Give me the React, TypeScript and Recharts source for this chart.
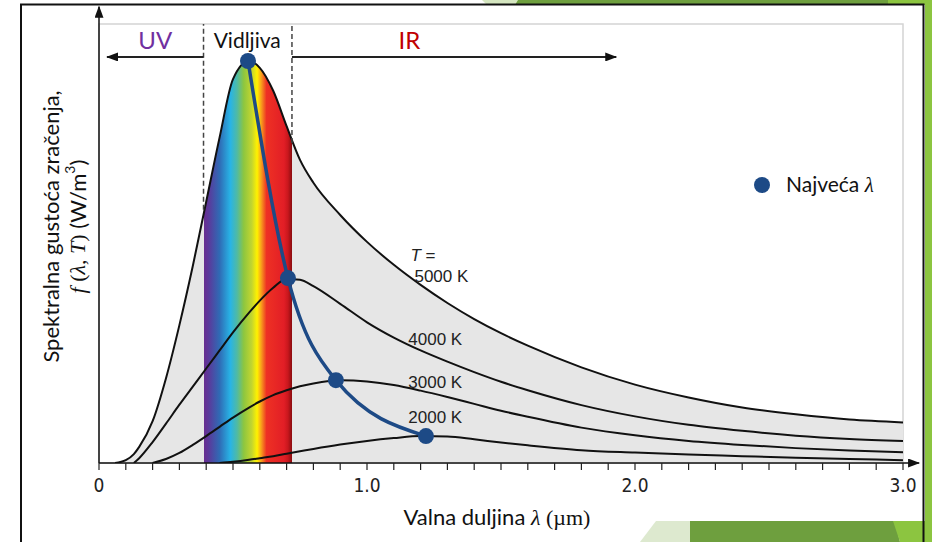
import {
  ComposedChart, Area, Line, XAxis, YAxis,
  ReferenceLine, ReferenceArea, ReferenceDot, Legend,
} from 'recharts';

// wavelength grid (µm) and spectral density per temperature (arbitrary units, 5000 K peak = 100)
const lambda = [0.06, 0.1, 0.13, 0.15, 0.2, 0.25, 0.3, 0.35, 0.4, 0.45, 0.5, 0.56, 0.6, 0.65, 0.7, 0.75, 0.8, 0.9, 1.0, 1.1, 1.2, 1.3, 1.4, 1.5, 1.6, 1.8, 2.0, 2.2, 2.4, 2.6, 2.8, 3.0];
const t5000 = [0, 0.7, 2.2, 4.0, 10.4, 21.1, 34.3, 49, 65, 81, 95.5, 100, 98.3, 92.6, 83.8, 75.4, 69.7, 61.7, 55.0, 49.3, 44.3, 39.8, 35.8, 32.3, 29.2, 23.8, 19.5, 16.3, 13.8, 12.1, 10.8, 10.1];
const t4000 = [null, null, 0, 1.2, 5.2, 9.8, 14.5, 19.0, 23.5, 28, 32.5, 37.4, 40.4, 43.6, 45.8, 45.6, 44.0, 39.6, 35.0, 31.2, 28.0, 25.2, 22.6, 20.2, 18.1, 14.4, 11.6, 9.5, 8.0, 6.8, 6.0, 5.5];
const t3000 = [null, null, null, null, 0, 1.0, 2.5, 4.5, 6.7, 9.0, 11.3, 13.8, 15.3, 16.9, 18.1, 19.1, 19.8, 20.6, 20.3, 19.4, 18.0, 16.4, 14.7, 13.0, 11.5, 8.8, 6.9, 5.5, 4.5, 3.7, 3.1, 2.7];
const t2000 = [null, null, null, null, null, null, null, null, null, 0, 0.3, 0.8, 1.2, 1.7, 2.3, 2.9, 3.5, 4.6, 5.5, 6.2, 6.7, 6.6, 5.9, 5.1, 4.4, 3.2, 2.6, 2.1, 1.7, 1.3, 1.0, 0.7];

// peak wavelength per curve (Wien)
const peakLambda = [0.556, 0.705, 0.884, 1.22];
const peakValue = [100, 46, 20.6, 6.7];

const xTicks = [0, 0.1, 0.2, 0.3, 0.4, 0.5, 0.6, 0.7, 0.8, 0.9, 1.0, 1.1, 1.2, 1.3, 1.4, 1.5, 1.6, 1.7, 1.8, 1.9, 2.0, 2.1, 2.2, 2.3, 2.4, 2.5, 2.6, 2.7, 2.8, 2.9, 3.0];
const xLabelTicks = [0, 1, 2, 3];

const VIS_FROM = 0.39;
const VIS_TO = 0.72;
const VIS_EDGE_VALUES = [63, 79.6];
const Y_MAX = 109.2;
const ARROW_ROW = 101;
const BAND_LABEL_ROW = 105.3;

const bandLabels = [
  { text: 'UV', x: 0.21, color: '#7030a0', size: 24 },
  { text: 'Vidljiva', x: 0.553, color: '#111', size: 21 },
  { text: 'IR', x: 1.158, color: '#c00000', size: 24 },
];
const tempLabels = [
  { text: '5000 K', x: 1.177, y: 46.3 },
  { text: '4000 K', x: 1.154, y: 30.6 },
  { text: '3000 K', x: 1.154, y: 19.9 },
  { text: '2000 K', x: 1.154, y: 11.2 },
];

const spectrum: [number, string][] = [
  [0.39, '#6a2c8f'], [0.41, '#5a3a9c'], [0.45, '#2f6bb5'], [0.49, '#28b4e6'],
  [0.515, '#4fbaa5'], [0.54, '#8dc63f'], [0.57, '#c3d52f'], [0.59, '#fff200'],
  [0.605, '#f8a11c'], [0.625, '#ee3124'], [0.69, '#e21e26'], [0.705, '#c9171d'], [0.72, '#8a0c10'],
];

const BLUE = '#1d4a86';
const GRAY = '#e6e6e6';
const SANS = "Lato, 'Open Sans', sans-serif";
const ARIAL = "'Liberation Sans', Arial, sans-serif";
const NARROW = "'Liberation Sans Narrow', 'DejaVu Sans Condensed', sans-serif";
const SERIF = "'Liberation Serif', 'DejaVu Serif', serif";

const rows = lambda.map((l, i) => ({
  lambda: l, t5000: t5000[i], t4000: t4000[i], t3000: t3000[i], t2000: t2000[i],
}));
const peakRows = peakLambda.map((l, i) => ({ lambda: l, peak: peakValue[i] }));

// gradient offsets are relative to the 5000 K area's bounding box
const FILL_START = lambda[0];
const FILL_END = lambda[lambda.length - 1];
const off = (l: number) => `${((l - FILL_START) / (FILL_END - FILL_START)) * 100}%`;

const fmtTick = (v: number) => {
  const hit = xLabelTicks.find((t) => Math.abs(t - v) < 1e-6);
  if (hit === undefined) return '';
  return hit === 0 ? '0' : hit.toFixed(1);
};

function YTitle(props: any) {
  const vb = props.viewBox;
  const left = vb.x + vb.width;
  const cy = vb.y + vb.height / 2 - 17;
  return (
    <g>
      <text transform={`translate(${left - 49}, ${cy}) rotate(-90)`} textAnchor="middle"
        dominantBaseline="central" fontFamily={SANS} fontSize={22} fill="#111">
        Spektralna gustoća zračenja,
      </text>
      <text transform={`translate(${left - 22}, ${cy}) rotate(-90)`} textAnchor="middle"
        dominantBaseline="central" fontSize={22} fill="#111">
        <tspan fontFamily={SERIF} fontStyle="italic">f</tspan>
        <tspan fontFamily={SERIF}> (</tspan>
        <tspan fontFamily={SERIF} fontStyle="italic">λ</tspan>
        <tspan fontFamily={SERIF}>, </tspan>
        <tspan fontFamily={SERIF} fontStyle="italic">T</tspan>
        <tspan fontFamily={SERIF}>)</tspan>
        <tspan fontFamily={SANS}> (W/m</tspan>
        <tspan fontFamily={SANS} fontSize={14} dy={-8}>3</tspan>
        <tspan fontFamily={SANS} dy={8}>)</tspan>
      </text>
    </g>
  );
}

function XTitle(props: any) {
  const vb = props.viewBox;
  return (
    <text x={vb.x + vb.width / 2 - 4} y={vb.y + 62} textAnchor="middle" fontSize={22} fill="#111">
      <tspan fontFamily={SANS}>Valna duljina </tspan>
      <tspan fontFamily={SERIF} fontStyle="italic">λ</tspan>
      <tspan fontFamily={SERIF}> (µm)</tspan>
    </text>
  );
}

function LegendBox() {
  return (
    <div style={{ display: 'flex', alignItems: 'center', whiteSpace: 'nowrap' }}>
      <svg width={18} height={18} style={{ marginRight: 15 }}>
        <circle cx={9} cy={9} r={8} fill={BLUE} />
      </svg>
      <span style={{ fontFamily: SANS, fontSize: 21, color: '#111' }}>
        Najveća <span style={{ fontFamily: SERIF, fontStyle: 'italic' }}>λ</span>
      </span>
    </div>
  );
}

export default function App() {
  return (
    <div style={{ position: 'absolute', left: 0, top: 0, width: 932, height: 542, background: '#fff', overflow: 'hidden' }}>
      <ComposedChart width={932} height={542} data={rows}
        margin={{ top: 24, right: 29, left: 69, bottom: 49 }}>
        <defs>
          <linearGradient id="fill5000" x1="0" y1="0" x2="1" y2="0">
            <stop offset="0%" stopColor={GRAY} />
            <stop offset={off(VIS_FROM)} stopColor={GRAY} />
            {spectrum.map(([l, c]) => <stop key={l} offset={off(l)} stopColor={c} />)}
            <stop offset={off(VIS_TO)} stopColor={GRAY} />
            <stop offset="100%" stopColor={GRAY} />
          </linearGradient>
          <marker id="arrowHead" viewBox="0 0 12 9" refX={11} refY={4.5} markerWidth={12} markerHeight={9}
            markerUnits="userSpaceOnUse" orient="auto">
            <path d="M0,0 L12,4.5 L0,9 z" fill="#111" />
          </marker>
        </defs>

        <XAxis dataKey="lambda" type="number" domain={[0, 3]} ticks={xTicks} interval={0}
          tickFormatter={fmtTick} axisLine={false} tickSize={7} tickMargin={9} height={30}
          tickLine={{ stroke: '#222', strokeWidth: 1.2 }} allowDataOverflow
          tick={{ fill: '#222', fontSize: 19, fontFamily: NARROW }}
          label={(p: any) => <XTitle {...p} />} />
        <YAxis type="number" domain={[0, Y_MAX]} width={30} axisLine={false} tickLine={false}
          tick={false} allowDataOverflow label={(p: any) => <YTitle {...p} />} />

        <ReferenceArea x1={0} x2={3} y1={0} y2={Y_MAX} fill="none" stroke="#d4d4d4" strokeWidth={1.5} />

        <Area dataKey="t5000" type="monotone" fill="url(#fill5000)" fillOpacity={1}
          stroke="#111" strokeWidth={2} isAnimationActive={false} />
        <Line dataKey="t4000" type="monotone" stroke="#111" strokeWidth={2} dot={false} isAnimationActive={false} />
        <Line dataKey="t3000" type="monotone" stroke="#111" strokeWidth={2} dot={false} isAnimationActive={false} />
        <Line dataKey="t2000" type="monotone" stroke="#111" strokeWidth={2} dot={false} isAnimationActive={false} />

        <Line data={peakRows} dataKey="peak" name="Najveća λ" type="monotone" stroke={BLUE} strokeWidth={3.5}
          dot={{ r: 8, fill: BLUE, stroke: BLUE, strokeWidth: 0 }} isAnimationActive={false} />

        <ReferenceLine segment={[{ x: VIS_FROM, y: VIS_EDGE_VALUES[0] }, { x: VIS_FROM, y: Y_MAX }]}
          stroke="#444" strokeWidth={1.5} strokeDasharray="5 3" ifOverflow="visible" />
        <ReferenceLine segment={[{ x: VIS_TO, y: VIS_EDGE_VALUES[1] }, { x: VIS_TO, y: Y_MAX }]}
          stroke="#444" strokeWidth={1.5} strokeDasharray="5 3" ifOverflow="visible" />

        <ReferenceLine segment={[{ x: VIS_FROM, y: ARROW_ROW }, { x: 0.03, y: ARROW_ROW }]}
          stroke="#222" strokeWidth={2} markerEnd="url(#arrowHead)" ifOverflow="visible" />
        <ReferenceLine segment={[{ x: VIS_TO, y: ARROW_ROW }, { x: 1.93, y: ARROW_ROW }]}
          stroke="#222" strokeWidth={2} markerEnd="url(#arrowHead)" ifOverflow="visible" />

        <ReferenceLine segment={[{ x: 0, y: 0 }, { x: 3.06, y: 0 }]}
          stroke="#111" strokeWidth={1.5} markerEnd="url(#arrowHead)" ifOverflow="visible" />
        <ReferenceLine segment={[{ x: 0, y: 0 }, { x: 0, y: 113.5 }]}
          stroke="#111" strokeWidth={1.5} markerEnd="url(#arrowHead)" ifOverflow="visible" />

        {bandLabels.map((b) => (
          <ReferenceDot key={b.text} x={b.x} y={BAND_LABEL_ROW} r={1} ifOverflow="visible"
            shape={(p: any) => (
              <text x={p.cx} y={p.cy} textAnchor="middle" dominantBaseline="central"
                fontFamily={SANS} fontSize={b.size} fill={b.color}>{b.text}</text>
            )} />
        ))}

        <ReferenceDot x={1.162} y={51.7} r={1} ifOverflow="visible"
          shape={(p: any) => (
            <text x={p.cx} y={p.cy} dominantBaseline="central" fontFamily={ARIAL} fontSize={17} fill="#222">
              <tspan fontStyle="italic">T</tspan> =
            </text>
          )} />
        {tempLabels.map((t) => (
          <ReferenceDot key={t.text} x={t.x} y={t.y} r={1} ifOverflow="visible"
            shape={(p: any) => (
              <text x={p.cx} y={p.cy} dominantBaseline="central" fontFamily={ARIAL} fontSize={17} fill="#222">
                {t.text}
              </text>
            )} />
        ))}

        <Legend layout="horizontal" verticalAlign="middle" align="center"
          wrapperStyle={{ left: 753, top: 171, width: 'auto' }} content={() => <LegendBox />} />
      </ComposedChart>

      <svg width={932} height={542} style={{ position: 'absolute', left: 0, top: 0, pointerEvents: 'none' }}>
        <polygon points="482,0 522,0 518,5 487,5" fill="#d5e6c0" />
        <polygon points="518,0 890,0 890,5 515,5" fill="#6e9f3e" />
        <polygon points="888,0 932,0 932,5 888,5" fill="#8cc540" />
        <rect x={925} y={0} width={7} height={542} fill="#8cc540" />
        <polygon points="640,542 656,521 700,521 692,542" fill="#dde9cf" />
        <polygon points="690,521 895,521 900,542 690,542" fill="#6e9f3e" />
        <polygon points="893,521 925,521 925,542 900,542" fill="#8cc540" />
        <path d="M21,542 L21,4.5 L923.5,4.5 L923.5,542" fill="none" stroke="#111" strokeWidth={2} />
      </svg>
    </div>
  );
}
